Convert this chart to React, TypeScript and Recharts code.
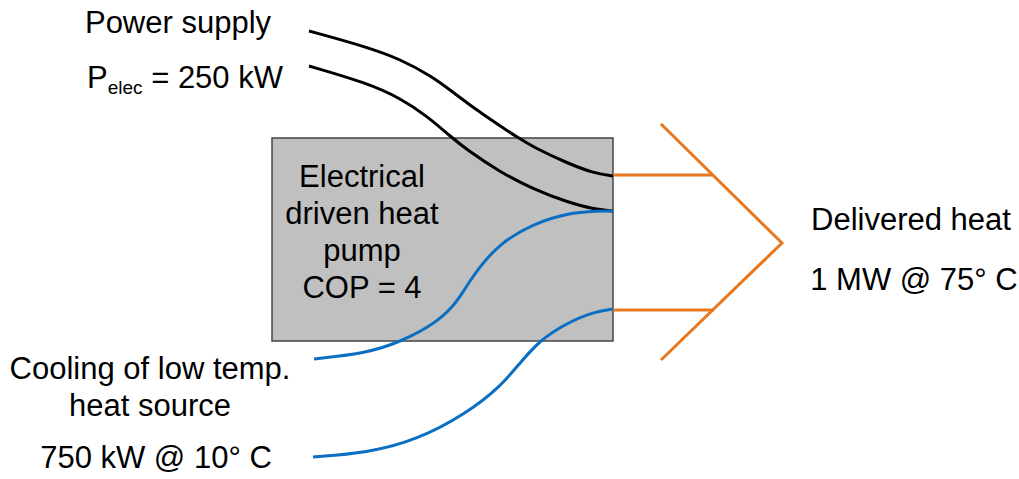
import React from "react";
import {
  ComposedChart, Line, XAxis, YAxis, ReferenceArea, ReferenceDot,
} from "recharts";

type Pt = { x: number; y: number };

// curves (x to the right, y downwards)
const powerUpper: Pt[] = [
  { x: 309, y: 31 }, { x: 367, y: 47 }, { x: 400, y: 59 }, { x: 433, y: 77 },
  { x: 450, y: 90 }, { x: 467, y: 103 }, { x: 500, y: 126 }, { x: 517, y: 137 },
  { x: 533, y: 147 }, { x: 567, y: 163 }, { x: 593, y: 173 }, { x: 613, y: 176 },
];
const powerLower: Pt[] = [
  { x: 309, y: 66 }, { x: 367, y: 83 }, { x: 400, y: 98 }, { x: 427, y: 116 },
  { x: 450, y: 136 }, { x: 467, y: 150 }, { x: 500, y: 172 }, { x: 533, y: 189 },
  { x: 567, y: 202 }, { x: 593, y: 209 }, { x: 613, y: 211 },
];
const sourceUpper: Pt[] = [
  { x: 314, y: 359 }, { x: 367, y: 353 }, { x: 400, y: 342 }, { x: 433, y: 325 },
  { x: 453, y: 307 }, { x: 463, y: 292 }, { x: 477, y: 270 }, { x: 500, y: 243 },
  { x: 533, y: 224 }, { x: 567, y: 213 }, { x: 600, y: 211 }, { x: 613, y: 211 },
];
const sourceLower: Pt[] = [
  { x: 313, y: 457 }, { x: 367, y: 453 }, { x: 417, y: 440 }, { x: 467, y: 413 },
  { x: 500, y: 387 }, { x: 520, y: 363 }, { x: 540, y: 340 }, { x: 567, y: 323 },
  { x: 593, y: 312 }, { x: 613, y: 309 },
];
const heatOutUpper: Pt[] = [{ x: 613, y: 175 }, { x: 712, y: 175 }];
const heatOutLower: Pt[] = [{ x: 613, y: 310 }, { x: 714, y: 310 }];
const arrowHead: Pt[] = [{ x: 661, y: 124 }, { x: 782, y: 243 }, { x: 661, y: 360 }];

const pumpBox = { x1: 272, x2: 613, y1: 138, y2: 341 };

const pumpLines = ["Electrical", "driven heat", "pump", "COP = 4"];
const deliveredLines = ["Delivered heat", "1 MW @ 75° C"];
const sourceLines = ["Cooling of low temp.", "heat source", "750 kW @ 10° C"];

const BLACK = "#000000";
const BLUE = "#0a6fc2";
const ORANGE = "#e8781e";
const FONT = "'Liberation Sans', Arial, sans-serif";
const SIZE = 31;

const textLabel = (text: string) => (p: any) => (
  <text x={p.viewBox.x} y={p.viewBox.y} textAnchor="middle" fontFamily={FONT} fontSize={SIZE} fill="#000">
    {text}
  </text>
);

const pelecLabel = (p: any) => (
  <text x={p.viewBox.x} y={p.viewBox.y} fontFamily={FONT} fontSize={SIZE} fill="#000">
    P<tspan fontSize={19} dy={6}>elec</tspan><tspan dy={-6}> = 250 kW</tspan>
  </text>
);

// label anchors (baselines)
const labelAt: { text: string; x: number; y: number }[] = [
  { text: "Power supply", x: 178, y: 33 },
  { text: pumpLines[0], x: 362, y: 187 },
  { text: pumpLines[1], x: 362, y: 224 },
  { text: pumpLines[2], x: 362, y: 261 },
  { text: pumpLines[3], x: 362, y: 298 },
  { text: deliveredLines[0], x: 911, y: 230 },
  { text: deliveredLines[1], x: 914, y: 290 },
  { text: sourceLines[0], x: 150, y: 379 },
  { text: sourceLines[1], x: 150, y: 416 },
  { text: sourceLines[2], x: 156, y: 468 },
];

export default function App() {
  const line = (key: string, data: Pt[], color: string, type: "basis" | "linear" = "basis") => (
    <Line
      key={key}
      data={data}
      dataKey="y"
      type={type}
      stroke={color}
      strokeWidth={3}
      dot={false}
      activeDot={false}
      isAnimationActive={false}
    />
  );

  return (
    <div style={{ position: "absolute", left: 0, top: 0, background: "#fff" }}>
      <ComposedChart width={1019} height={479} margin={{ top: 0, right: 0, bottom: 0, left: 0 }}>
        <XAxis type="number" dataKey="x" domain={[0, 1019]} hide allowDataOverflow />
        <YAxis type="number" domain={[0, 479]} reversed hide allowDataOverflow />
        <ReferenceArea
          x1={pumpBox.x1} x2={pumpBox.x2} y1={pumpBox.y1} y2={pumpBox.y2}
          fill="#c0c0c0" fillOpacity={1} stroke="#444" strokeWidth={1.5}
        />
        {line("hu", heatOutUpper, ORANGE, "linear")}
        {line("hl", heatOutLower, ORANGE, "linear")}
        {line("ah", arrowHead, ORANGE, "linear")}
        {line("pu", powerUpper, BLACK)}
        {line("pl", powerLower, BLACK)}
        {line("su", sourceUpper, BLUE)}
        {line("sl", sourceLower, BLUE)}
        {labelAt.map((l) => (
          <ReferenceDot key={l.text} x={l.x} y={l.y} r={0} fill="none" stroke="none" label={textLabel(l.text)} />
        ))}
        <ReferenceDot x={87} y={88} r={0} fill="none" stroke="none" label={pelecLabel} />
      </ComposedChart>
    </div>
  );
}
